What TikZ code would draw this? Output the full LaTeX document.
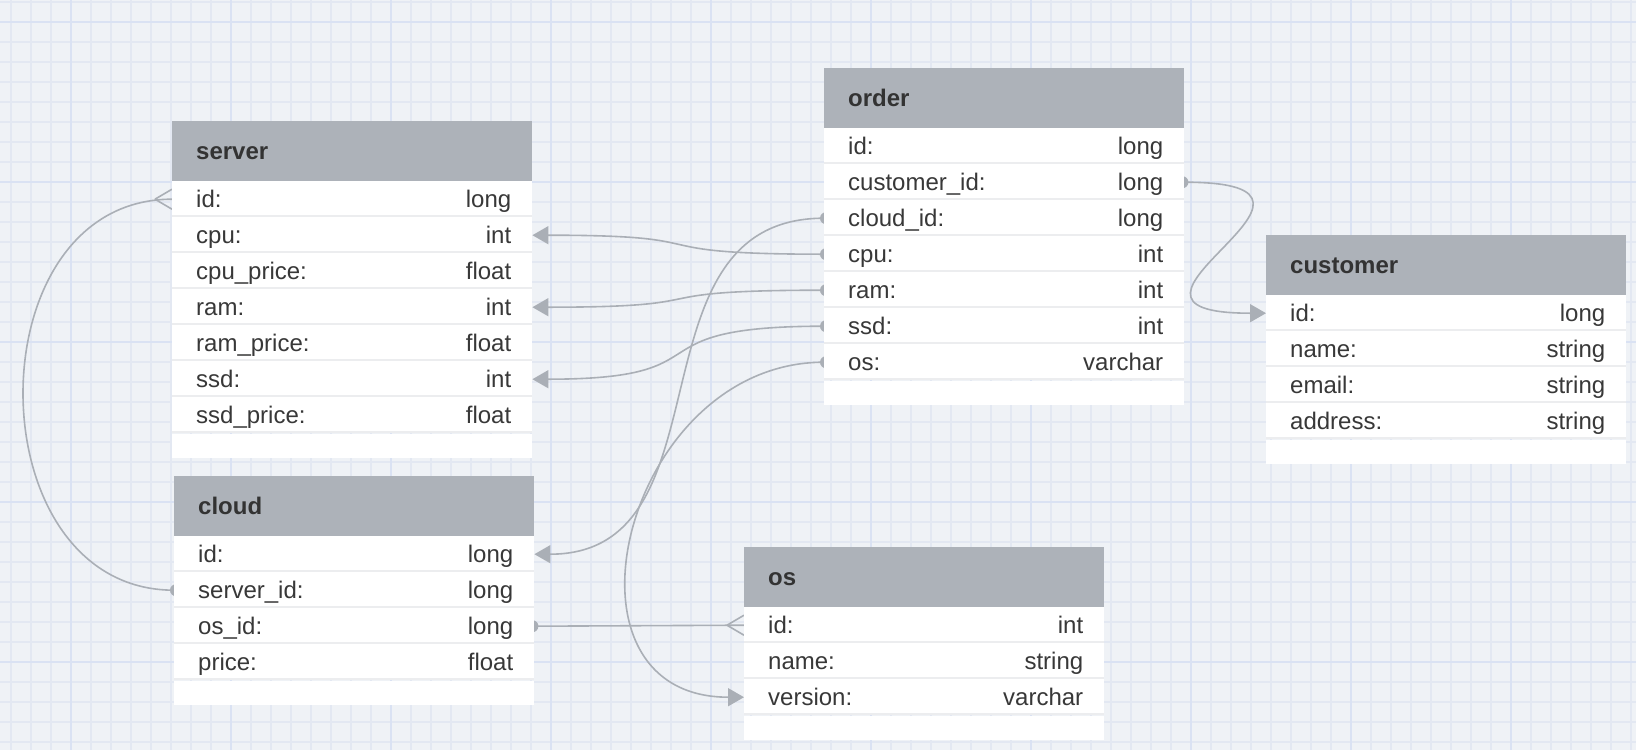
\documentclass[tikz,border=0pt]{standalone}
\usepackage{fontspec}
\setmainfont{Liberation Sans}
\usetikzlibrary{calc,arrows.meta}
\definecolor{paper}{HTML}{EFF2F6}
\definecolor{gridminor}{HTML}{E3E8F2}
\definecolor{gridmajor}{HTML}{DAE2F3}
\definecolor{headgray}{HTML}{ADB2B9}
\definecolor{headtext}{HTML}{333333}
\definecolor{rowtext}{HTML}{383838}
\definecolor{rowline}{HTML}{ECEDEF}
\definecolor{linkgray}{HTML}{AAAFB6}
\pgfdeclarelayer{grid}
\pgfdeclarelayer{links}
\pgfsetlayers{grid,links,main}
\tikzstyle{tblhead} = [rectangle,fill=headgray,anchor=north west,minimum width=360pt,minimum height=60pt,inner sep=0pt]
\tikzstyle{tbltitle} = [anchor=base west,inner sep=0pt,text=headtext,font=\bfseries\fontsize{24}{28}\selectfont]
\tikzstyle{tblrow} = [rectangle,fill=white,anchor=north west,minimum width=360pt,minimum height=36pt,inner sep=0pt]
\tikzstyle{tblpad} = [tblrow,minimum height=24pt]
\tikzstyle{tblfield} = [anchor=base west,inner sep=0pt,text=rowtext,font=\fontsize{24}{28}\selectfont]
\tikzstyle{tbltype} = [tblfield,anchor=base east]
\tikzstyle{divider} = [draw=rowline,line width=2pt]
\tikzstyle{link} = [draw=linkgray,line width=1.6pt]
\tikzstyle{fkey} = [link,-{Triangle[length=16pt,width=18pt]}]
\tikzstyle{linkdot} = [fill=linkgray]

\begin{document}
\begin{tikzpicture}[x=1pt,y=-1pt]
    \useasboundingbox (0,0) rectangle (1636,750);
    \begin{pgfonlayer}{grid}
        \fill[paper] (0,0) rectangle (1636,750);
        \foreach \x in {11,31,...,1631} \draw[gridminor,line width=1.2pt] (\x,0) -- (\x,750);
        \foreach \y in {2,22,...,742} \draw[gridminor,line width=1.2pt] (0,\y) -- (1636,\y);
        \foreach \x in {71,231,...,1631} \draw[gridmajor,line width=1.5pt] (\x,0) -- (\x,750);
        \foreach \y in {22,182,...,742} \draw[gridmajor,line width=1.5pt] (0,\y) -- (1636,\y);
    \end{pgfonlayer}

    % server
    \node[tblhead] (server) at (172,121) {};
    \node[tbltitle] (server-title) at ($(server.west)+(24,8)$) {server};
    \foreach \f/\t [count=\i] in {id/long,cpu/int,cpu\_price/float,ram/int,ram\_price/float,ssd/int,ssd\_price/float}{
        \node[tblrow] (server-\i) at (172,{181+36*(\i-1)}) {};
        \node[tblfield] (server-\i-f) at ($(server-\i.west)+(24,8)$) {\f:};
        \node[tbltype] (server-\i-t) at ($(server-\i.east)+(-21,8)$) {\t};
        \draw[divider] ([yshift=1pt]server-\i.south west) -- ([yshift=1pt]server-\i.south east);
    }
    \node[tblpad] (server-pad) at (server-7.south west) {};

    % cloud
    \node[tblhead] (cloud) at (174,476) {};
    \node[tbltitle] (cloud-title) at ($(cloud.west)+(24,8)$) {cloud};
    \foreach \f/\t [count=\i] in {id/long,server\_id/long,os\_id/long,price/float}{
        \node[tblrow] (cloud-\i) at (174,{536+36*(\i-1)}) {};
        \node[tblfield] (cloud-\i-f) at ($(cloud-\i.west)+(24,8)$) {\f:};
        \node[tbltype] (cloud-\i-t) at ($(cloud-\i.east)+(-21,8)$) {\t};
        \draw[divider] ([yshift=1pt]cloud-\i.south west) -- ([yshift=1pt]cloud-\i.south east);
    }
    \node[tblpad] (cloud-pad) at (cloud-4.south west) {};

    % order
    \node[tblhead] (order) at (824,68) {};
    \node[tbltitle] (order-title) at ($(order.west)+(24,8)$) {order};
    \foreach \f/\t [count=\i] in {id/long,customer\_id/long,cloud\_id/long,cpu/int,ram/int,ssd/int,os/varchar}{
        \node[tblrow] (order-\i) at (824,{128+36*(\i-1)}) {};
        \node[tblfield] (order-\i-f) at ($(order-\i.west)+(24,8)$) {\f:};
        \node[tbltype] (order-\i-t) at ($(order-\i.east)+(-21,8)$) {\t};
        \draw[divider] ([yshift=1pt]order-\i.south west) -- ([yshift=1pt]order-\i.south east);
    }
    \node[tblpad] (order-pad) at (order-7.south west) {};

    % customer
    \node[tblhead] (customer) at (1266,235) {};
    \node[tbltitle] (customer-title) at ($(customer.west)+(24,8)$) {customer};
    \foreach \f/\t [count=\i] in {id/long,name/string,email/string,address/string}{
        \node[tblrow] (customer-\i) at (1266,{295+36*(\i-1)}) {};
        \node[tblfield] (customer-\i-f) at ($(customer-\i.west)+(24,8)$) {\f:};
        \node[tbltype] (customer-\i-t) at ($(customer-\i.east)+(-21,8)$) {\t};
        \draw[divider] ([yshift=1pt]customer-\i.south west) -- ([yshift=1pt]customer-\i.south east);
    }
    \node[tblpad] (customer-pad) at (customer-4.south west) {};

    % os
    \node[tblhead] (os) at (744,547) {};
    \node[tbltitle] (os-title) at ($(os.west)+(24,8)$) {os};
    \foreach \f/\t [count=\i] in {id/int,name/string,version/varchar}{
        \node[tblrow] (os-\i) at (744,{607+36*(\i-1)}) {};
        \node[tblfield] (os-\i-f) at ($(os-\i.west)+(24,8)$) {\f:};
        \node[tbltype] (os-\i-t) at ($(os-\i.east)+(-21,8)$) {\t};
        \draw[divider] ([yshift=1pt]os-\i.south west) -- ([yshift=1pt]os-\i.south east);
    }
    \node[tblpad] (os-pad) at (os-3.south west) {};

    \begin{pgfonlayer}{links}
        \path[fkey] (order-4.west) .. controls +(-200,0) and +(200,0) .. (server-2.east);
        \path[fkey] (order-5.west) .. controls +(-200,0) and +(200,0) .. (server-4.east);
        \path[fkey] (order-6.west) .. controls +(-200,0) and +(200,0) .. (server-6.east);
        \path[fkey] (order-3.west) .. controls +(-200,0) and +(200,0) .. (cloud-1.east);
        \path[fkey] (order-7.west) .. controls +(-200,0) and +(-200,0) .. (os-3.west);
        \path[fkey] (order-2.east) .. controls +(200,0) and +(-200,0) .. (customer-1.west);
        \path[link] (cloud-3.east) -- (os-1.west);
        \path[link] (cloud-2.west) .. controls +(-200,0) and +(-200,0) .. (server-1.west);
        % crow's feet
        \path[link] (server-1.west) ++(-17,0) -- ++(17,10) ++(-17,-10) -- ++(17,-10);
        \path[link] (os-1.west) ++(-17,0) -- ++(17,10) ++(-17,-10) -- ++(17,-10);
        \foreach \p/\s in {order-2.east/-2,order-3.west/2,order-4.west/2,order-5.west/2,order-6.west/2,order-7.west/2,cloud-2.west/2,cloud-3.east/-2}
            \fill[linkdot] ($(\p)+(\s,0)$) circle (6pt);
    \end{pgfonlayer}
\end{tikzpicture}
\end{document}
